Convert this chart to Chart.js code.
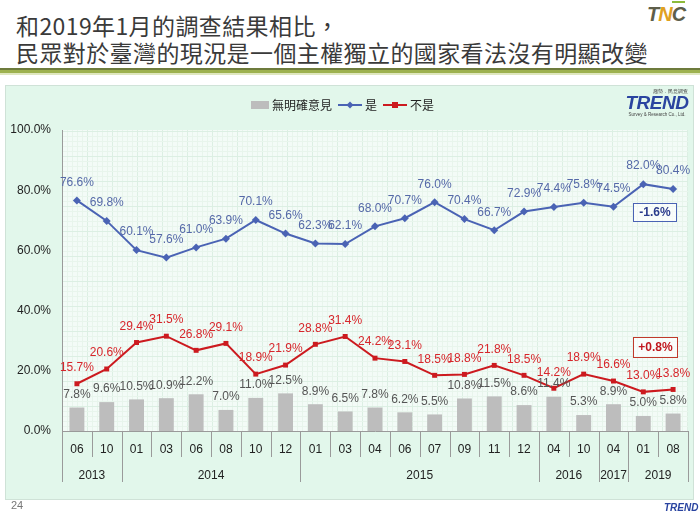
<!DOCTYPE html>
<html>
<head>
<meta charset="utf-8">
<script src="https://cdn.jsdelivr.net/npm/chart.js@4.4.1/dist/chart.umd.min.js"></script>
<style>
  html, body { margin:0; padding:0; background:#fff; }
  #page { position:relative; width:700px; height:525px; overflow:hidden; background:#fff; font-family:"Liberation Sans", Arial, sans-serif; }
  #title { position:absolute; left:16px; top:12px; font-family:"Noto Sans CJK TC", sans-serif; font-size:23px; line-height:27px; color:#3a3a3a; letter-spacing:0.4px; white-space:nowrap; }
  .sep1 { position:absolute; left:0; top:68px; width:700px; height:2px; background:#6d7b3c; }
  .sep2 { position:absolute; left:0; top:70px; width:700px; height:3px; background:#9db14f; }
  .sep3 { position:absolute; left:0; top:73px; width:700px; height:2px; background:#dfe7bf; }
  #panel { position:absolute; left:5px; top:85px; width:687px; height:413px; background:#e2f7eb; border:1px solid #cfe2d7; }
  #chart { position:absolute; left:0; top:0; }
  #legend { position:absolute; top:96px; left:251px; font-family:"Noto Sans CJK TC", sans-serif; font-size:12px; color:#222; display:flex; align-items:center; white-space:nowrap; }
  #legend .sw { display:inline-block; width:18px; height:8px; background:#bdbdbd; margin-right:3px; }
  #legend svg { margin:0 3px 0 6px; }
  .box { position:absolute; font-family:"Liberation Sans", Arial, sans-serif; font-weight:bold; font-size:12px; text-align:center; background:rgba(255,255,255,0.6); box-sizing:border-box; }
  #boxYes { left:633px; top:203px; width:44px; height:19px; line-height:17px; border:1px solid #4a63b4; color:#2b3c8c; }
  #boxNo { left:633px; top:337px; width:45px; height:21px; line-height:19px; border:1px solid #c0392b; color:#c0171d; }
  #tnc { position:absolute; left:647px; top:3px; font-family:"Liberation Sans", Arial, sans-serif; font-weight:bold; font-style:italic; font-size:20px; color:#5e5e4a; letter-spacing:-1px; }
  #tnc .n { color:#e0a020; }
  #tnc .c { color:#5e5e4a; border-top:2px solid #8dbb3a; }
  #trend { position:absolute; left:622px; top:88px; width:70px; text-align:center; font-family:"Liberation Sans", Arial, sans-serif; }
  #trend .s1 { font-size:5px; color:#444; text-align:right; padding-right:4px; line-height:6px; }
  #trend .s2 { font-size:19px; font-weight:bold; font-style:italic; color:#2a44a0; line-height:18px; letter-spacing:-0.5px; }
  #trend .s3 { font-size:4.5px; color:#444; line-height:5px; }
  #pnum { position:absolute; left:11px; top:499px; font-size:11px; color:#777; }
  #trend2 { position:absolute; left:664px; top:502px; font-size:10px; font-weight:bold; font-style:italic; color:#2a44a0; }
</style>
</head>
<body>
<div id="page">
  <div id="title">和2019年1月的調查結果相比，<br>民眾對於臺灣的現況是一個主權獨立的國家看法沒有明顯改變</div>
  <div id="tnc">T<span class="n">N</span><span class="c">C</span></div>
  <div class="sep1"></div><div class="sep2"></div><div class="sep3"></div>
  <div id="panel"></div>
  <canvas id="chart" width="700" height="525"></canvas>
  <div id="legend">
    <span class="sw"></span><span>無明確意見</span>
    <svg width="24" height="10"><line x1="0" y1="5" x2="24" y2="5" stroke="#4a63b4" stroke-width="2"/><rect x="9.5" y="2.5" width="5" height="5" fill="#4a63b4" transform="rotate(45 12 5)"/></svg><span>是</span>
    <svg width="24" height="10"><line x1="0" y1="5" x2="24" y2="5" stroke="#cc1a1f" stroke-width="2"/><rect x="9" y="2" width="6" height="6" fill="#cc1a1f"/></svg><span>不是</span>
  </div>
  <div id="trend"><div class="s1">趨勢．民意調查</div><div class="s2">TREND</div><div class="s3">Survey &amp; Research Co., Ltd.</div></div>
  <div class="box" id="boxYes">-1.6%</div>
  <div class="box" id="boxNo">+0.8%</div>
  <div id="pnum">24</div>
  <div id="trend2">TREND</div>
</div>
<script>
const months = ['06','10','01','03','06','08','10','12','01','03','04','06','07','09','11','12','04','10','04','01','08'];
const years = ['2013','2014','2015','2016','2017','2019'];
const yearSpans = [2, 6, 8, 2, 1, 2];
const noOpinion = [7.8, 9.6, 10.5, 10.9, 12.2, 7.0, 11.0, 12.5, 8.9, 6.5, 7.8, 6.2, 5.5, 10.8, 11.5, 8.6, 11.4, 5.3, 8.9, 5.0, 5.8];
const yes = [76.6, 69.8, 60.1, 57.6, 61.0, 63.9, 70.1, 65.6, 62.3, 62.1, 68.0, 70.7, 76.0, 70.4, 66.7, 72.9, 74.4, 75.8, 74.5, 82.0, 80.4];
const no = [15.7, 20.6, 29.4, 31.5, 26.8, 29.1, 18.9, 21.9, 28.8, 31.4, 24.2, 23.1, 18.5, 18.8, 21.8, 18.5, 14.2, 18.9, 16.6, 13.0, 13.8];
const yMin = 0, yMax = 100, yStep = 20;

const bgPlugin = {
  id: 'bgGrid',
  beforeDraw(chart) {
    const {ctx, chartArea: a} = chart;
    ctx.save();
    ctx.fillStyle = '#f3fbf7';
    ctx.fillRect(a.left, a.top, a.right - a.left, a.bottom - a.top);
    ctx.lineWidth = 1;
    for (let x = a.left + 5, i = 1; x < a.right; x += 5, i++) {
      ctx.strokeStyle = (i % 5 === 0) ? '#dcefe3' : '#e8f5ec';
      ctx.beginPath(); ctx.moveTo(Math.round(x) + 0.5, a.top); ctx.lineTo(Math.round(x) + 0.5, a.bottom); ctx.stroke();
    }
    for (let y = a.bottom - 5, i = 1; y > a.top; y -= 5, i++) {
      ctx.strokeStyle = (i % 5 === 0) ? '#dcefe3' : '#e8f5ec';
      ctx.beginPath(); ctx.moveTo(a.left, Math.round(y) + 0.5); ctx.lineTo(a.right, Math.round(y) + 0.5); ctx.stroke();
    }
    ctx.restore();
  }
};

const axisPlugin = {
  id: 'multiAxis',
  afterDraw(chart) {
    const {ctx, chartArea: a} = chart;
    const xs = chart.scales.x;
    const n = months.length;
    const w = (a.right - a.left) / n;
    const x0p = xs.getPixelForValue(0) - w / 2;
    ctx.save();
    ctx.strokeStyle = '#9a9a9a';
    ctx.lineWidth = 1;
    for (let i = 0; i <= n; i++) {
      const x = Math.round(x0p + i * w) + 0.5;
      ctx.beginPath(); ctx.moveTo(x, a.bottom); ctx.lineTo(x, a.bottom + 26); ctx.stroke();
    }
    ctx.fillStyle = '#222';
    ctx.font = '12px "Liberation Sans", Arial, sans-serif';
    ctx.textAlign = 'center';
    ctx.textBaseline = 'middle';
    const bounds = [0];
    let idx = 0;
    yearSpans.forEach(s => { idx += s; bounds.push(idx); });
    bounds.forEach(b => {
      const x = Math.round(x0p + b * w) + 0.5;
      ctx.beginPath(); ctx.moveTo(x, a.bottom); ctx.lineTo(x, a.bottom + 51); ctx.stroke();
    });
    for (let k = 0; k < years.length; k++) {
      const xa = x0p + bounds[k] * w;
      const xb = x0p + bounds[k + 1] * w;
      ctx.fillText(years[k], (xa + xb) / 2, a.bottom + 45);
    }
    ctx.restore();
  }
};

const labelPlugin = {
  id: 'valueLabels',
  afterDatasetsDraw(chart) {
    const {ctx} = chart;
    const cfg = [
      {color: '#555', dy: -13},
      {color: '#5569a8', dy: -18},
      {color: '#d7262b', dy: -16}
    ];
    ctx.save();
    ctx.font = '12px "Liberation Sans", Arial, sans-serif';
    ctx.textAlign = 'center';
    ctx.textBaseline = 'middle';
    chart.data.datasets.forEach((ds, di) => {
      const meta = chart.getDatasetMeta(di);
      ctx.fillStyle = cfg[di].color;
      meta.data.forEach((el, i) => {
        ctx.fillText(ds.data[i].toFixed(1) + '%', el.x, el.y + cfg[di].dy);
      });
    });
    ctx.restore();
  }
};

new Chart(document.getElementById('chart'), {
  data: {
    labels: months,
    datasets: [
      { type: 'bar', label: '無明確意見', data: noOpinion, backgroundColor: '#bdbdbd', barPercentage: 0.5, categoryPercentage: 1.0, order: 3 },
      { type: 'line', label: '是', data: yes, borderColor: '#4a63b4', backgroundColor: '#4a63b4', borderWidth: 2, pointStyle: 'rectRot', pointRadius: 4, pointBorderWidth: 0, order: 1 },
      { type: 'line', label: '不是', data: no, borderColor: '#cc1a1f', backgroundColor: '#cc1a1f', borderWidth: 2, pointStyle: 'rect', pointRadius: 3.5, pointBorderWidth: 0, order: 2 }
    ]
  },
  options: {
    responsive: false,
    animation: false,
    layout: { padding: { top: 130, right: 12, left: 0, bottom: 0 } },
    plugins: { legend: { display: false }, tooltip: { enabled: false } },
    scales: {
      x: {
        type: 'category',
        offset: true,
        grid: { display: false, drawTicks: false },
        border: { display: true, color: '#9a9a9a', width: 1 },
        ticks: { color: '#222', font: { size: 12, family: '"Liberation Sans", Arial, sans-serif' }, padding: 11, maxRotation: 0, autoSkip: false },
        afterFit(s) { s.height = 94; }
      },
      y: {
        min: yMin, max: yMax,
        grid: { display: false, drawTicks: false },
        border: { display: true, color: '#9a9a9a', width: 1 },
        ticks: { stepSize: yStep, color: '#222', font: { size: 12, family: '"Liberation Sans", Arial, sans-serif' }, padding: 11, callback: v => v.toFixed(1) + '%' },
        afterFit(s) { s.width = 62; }
      }
    }
  },
  plugins: [bgPlugin, axisPlugin, labelPlugin]
});
</script>
</body>
</html>
